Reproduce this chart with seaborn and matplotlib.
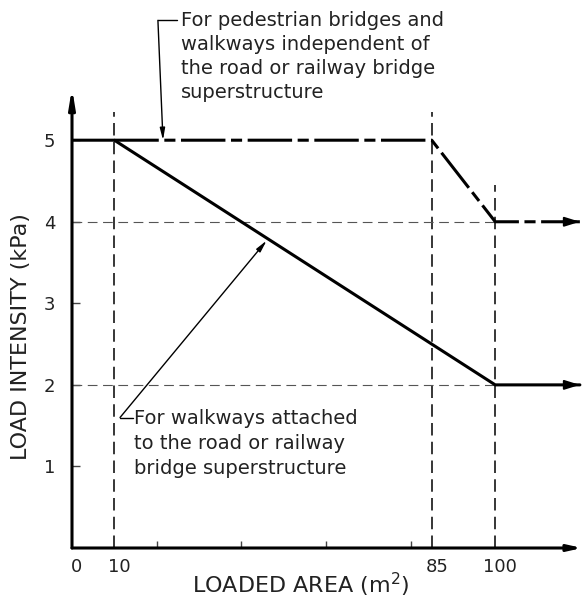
import seaborn as sns
import matplotlib.pyplot as plt
import matplotlib.transforms as mtransforms
import pandas as pd

# pedestrian bridges / walkways independent of the superstructure
ped_area = [10, 85, 100, 120]
ped_load = [5, 5, 4, 4]
# walkways attached to the superstructure
walk_area = [0, 10, 100, 120]
walk_load = [5, 5, 2, 2]

x_ticks = [0, 10, 85, 100]
x_ticklabels = ["0", "10", "85", "100"]
x_minor = [20, 40, 60, 80]
y_ticks = [1, 2, 3, 4, 5]

guide_x = [10, 85, 100]
guide_top = [5.35, 5.35, 4.45]
guide_y = [4, 2]

ped_note = "For pedestrian bridges and\nwalkways independent of\nthe road or railway bridge\nsuperstructure"
walk_note = "For walkways attached\nto the road or railway\nbridge superstructure"

sns.set_style("white")
plt.rcParams['font.family'] = ['DejaVu Sans']
plt.rcParams['lines.scale_dashes'] = False

fig = plt.figure(figsize=(5.82, 6.02), dpi=100)
ax = fig.add_axes([72 / 582, 54 / 602, 510 / 582, 460 / 602])
for s in ax.spines.values():
    s.set_visible(False)

# dashed guide lines
for gx, top in zip(guide_x, guide_top):
    ax.plot([gx, gx], [0, top], color='k', lw=1.1, linestyle=(0, (9, 4.5)))
for gy in guide_y:
    ax.plot([0, 100], [gy, gy], color='#555', lw=0.8, linestyle=(0, (7, 4)))

ped = pd.DataFrame({"area": ped_area, "load": ped_load})
walk = pd.DataFrame({"area": walk_area, "load": walk_load})
sns.lineplot(data=walk, x="area", y="load", ax=ax, color='k', lw=2.2)
sns.lineplot(data=ped, x="area", y="load", ax=ax, color='k', lw=2.2,
             linestyle=(0, (32, 4, 8, 4)))

head = dict(arrowstyle='-|>,head_length=0.9,head_width=0.28', color='k',
            lw=1.5, shrinkA=0, shrinkB=0)
for load in [ped_load[-1], walk_load[-1]]:
    ax.annotate("", xy=(120, load), xytext=(116, load), arrowprops=head,
                annotation_clip=False)

ax.set_xlim(0, 120.5)
ax.set_ylim(0, 5.64)

# axes with arrow ends
ax.annotate("", xy=(120.5, 0), xytext=(0, 0), annotation_clip=False,
            arrowprops=dict(arrowstyle='-|>,head_length=0.8,head_width=0.18',
                            color='k', lw=2.2, shrinkA=0, shrinkB=0))
ax.annotate("", xy=(0, 5.64), xytext=(0, 0), annotation_clip=False,
            arrowprops=dict(arrowstyle='-|>,head_length=1.1,head_width=0.18',
                            color='k', lw=2.2, shrinkA=0, shrinkB=0))

ax.set_xticks(x_ticks)
ax.set_xticklabels(x_ticklabels)
ax.set_xticks(x_minor, minor=True)
ax.set_yticks(y_ticks)
ax.tick_params(axis='x', which='major', length=0, pad=7, labelsize=13, labelcolor='#222')
ax.tick_params(axis='x', which='minor', direction='in', length=5, width=1, color='#444', bottom=True)
ax.tick_params(axis='y', direction='in', length=6, width=1, color='#444', left=True,
               pad=12, labelsize=13, labelcolor='#222')
shift = mtransforms.ScaledTranslation(5 / 100, 0, fig.dpi_scale_trans)
for lab in ax.get_xticklabels():
    lab.set_transform(lab.get_transform() + shift)

ax.set_xlabel("LOADED AREA (m$^2$)", fontsize=16, color='#222')
ax.xaxis.set_label_coords(0.449, -0.05)
ax.set_ylabel("LOAD INTENSITY (kPa)", fontsize=16, color='#222')
ax.yaxis.set_label_coords(-0.08, 0.459)

# callouts
ax.text(25.8, 6.58, ped_note, ha='left', va='top', fontsize=14, linespacing=1.33, color='#222')
ax.plot([24.8, 20.3], [6.47, 6.47], color='k', lw=1, clip_on=False)
ax.annotate("", xy=(21.5, 5.0), xytext=(20.3, 6.47), annotation_clip=False,
            arrowprops=dict(arrowstyle='-|>,head_length=0.7,head_width=0.15',
                            color='k', lw=1, shrinkA=0, shrinkB=0))

ax.text(14.7, 1.71, walk_note, ha='left', va='top', fontsize=14, linespacing=1.4, color='#222')
ax.plot([14.3, 11.35], [1.6, 1.6], color='k', lw=1)
ax.annotate("", xy=(46, 3.77), xytext=(11.35, 1.6), annotation_clip=False,
            arrowprops=dict(arrowstyle='-|>,head_length=0.7,head_width=0.15',
                            color='k', lw=1, shrinkA=0, shrinkB=0))

fig.savefig("out.png", dpi=100)
